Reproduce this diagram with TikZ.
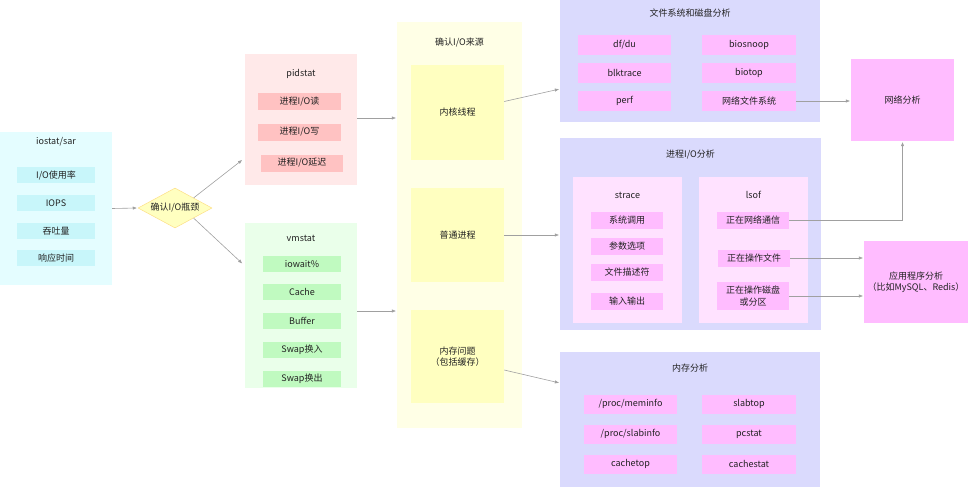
\documentclass[tikz,border=0pt]{standalone}
\usepackage{fontspec}
\setmainfont{Noto Sans CJK SC}
\usetikzlibrary{shapes.geometric,arrows.meta}
\definecolor{cyanout}{HTML}{E4FDFF}
\definecolor{cyanin}{HTML}{C8F6FA}
\definecolor{redout}{HTML}{FFE9E9}
\definecolor{redin}{HTML}{FFC2C2}
\definecolor{greenout}{HTML}{EAFFEA}
\definecolor{greenin}{HTML}{C0FAC0}
\definecolor{yelout}{HTML}{FFFFE6}
\definecolor{yelin}{HTML}{FFFFC0}
\definecolor{blueout}{HTML}{DADAFD}
\definecolor{pinkin}{HTML}{FFBCFF}
\definecolor{pinksub}{HTML}{FFE2FF}
\definecolor{arrgray}{HTML}{A0A0A0}
\definecolor{txt}{HTML}{222222}

\begin{document}
\begin{tikzpicture}[x=1pt, y=-1pt,
		every node/.style={inner sep=0, text=txt, font=\fontsize{9}{11.5}\selectfont, align=center},
		sz/.style 2 args={minimum width=#1, minimum height=#2},
		arr/.style={draw=arrgray, line width=0.6pt, -{Triangle[length=4pt, width=3pt]}, shorten >=1pt}]
		\useasboundingbox (0, 0) rectangle (976, 492);

		\node[fill=cyanout, sz={112}{153}] (iostat) at (56, 208.5) {};
		\node (iostat-t) at (56, 142) {iostat/sar};
		\node[fill=cyanin, sz={78}{16}] (iorate) at (56, 175) {I/O使用率};
		\node[fill=cyanin, sz={78}{16}] (iops) at (56, 203) {IOPS};
		\node[fill=cyanin, sz={78}{16}] (tput) at (56, 231) {吞吐量};
		\node[fill=cyanin, sz={78}{16}] (rtime) at (56, 258) {响应时间};

		\node[diamond, aspect=1.85, fill=yelin, draw=yellow!50!orange!45, line width=0.5pt, sz={74}{40}] (dia) at (175, 208) {确认I/O瓶颈};

		\node[fill=redout, sz={112}{131}] (pidstat) at (301, 119.5) {};
		\node (pidstat-t) at (301, 74) {pidstat};
		\node[fill=redin, sz={83}{17}] (pread) at (299.5, 102) {进程I/O读};
		\node[fill=redin, sz={83}{17}] (pwrite) at (299.5, 132) {进程I/O写};
		\node[fill=redin, sz={82}{17}] (pdelay) at (302, 163) {进程I/O延迟};

		\node[fill=greenout, sz={112}{165}] (vmstat) at (301, 305.5) {};
		\node (vmstat-t) at (301, 238) {vmstat};
		\node[fill=greenin, sz={78}{16}] (iowait) at (302, 264) {iowait\%};
		\node[fill=greenin, sz={78}{16}] (cache) at (302, 292) {Cache};
		\node[fill=greenin, sz={78}{16}] (buffer) at (302, 321) {Buffer};
		\node[fill=greenin, sz={78}{16}] (swapin) at (302, 350) {Swap换入};
		\node[fill=greenin, sz={78}{16}] (swapout) at (302, 379) {Swap换出};

		\node[fill=yelout, sz={125}{406}] (src) at (459.5, 225) {};
		\node (src-t) at (459.5, 43) {确认I/O来源};
		\node[fill=yelin, sz={93}{95}] (kern) at (457.5, 112.5) {内核线程};
		\node[fill=yelin, sz={93}{94}] (user) at (457.5, 235) {普通进程};
		\node[fill=yelin, sz={93}{93}] (memq) at (457.5, 356.5) {内存问题\\（包括缓存）};

		\node[fill=blueout, sz={260}{122}] (fs) at (690, 61) {};
		\node (fs-t) at (690, 13) {文件系统和磁盘分析};
		\node[fill=pinkin, sz={93}{20}] (dfdu) at (624.5, 45) {df/du};
		\node[fill=pinkin, sz={93}{20}] (blk) at (624.5, 73) {blktrace};
		\node[fill=pinkin, sz={93}{20}] (perf) at (624.5, 101) {perf};
		\node[fill=pinkin, sz={94}{20}] (bsnoop) at (749, 45) {biosnoop};
		\node[fill=pinkin, sz={94}{20}] (btop) at (749, 73) {biotop};
		\node[fill=pinkin, sz={94}{20}] (nfs) at (749, 101) {网络文件系统};

		\node[fill=pinkin, sz={103}{82}] (net) at (902.5, 100) {网络分析};

		\node[fill=blueout, sz={261}{192}] (proc) at (690.5, 234) {};
		\node (proc-t) at (690.5, 155) {进程I/O分析};
		\node[fill=pinksub, sz={109}{146}] (strace) at (627.5, 250) {};
		\node (strace-t) at (627.5, 195) {strace};
		\node[fill=pinksub, sz={109}{146}] (lsof) at (753.5, 250) {};
		\node (lsof-t) at (753.5, 195) {lsof};
		\node[fill=pinkin, sz={72}{17}] (sys) at (627, 220) {系统调用};
		\node[fill=pinkin, sz={72}{17}] (args) at (627, 246) {参数选项};
		\node[fill=pinkin, sz={72}{17}] (fdesc) at (627, 272) {文件描述符};
		\node[fill=pinkin, sz={72}{17}] (inout) at (627, 301) {输入输出};
		\node[fill=pinkin, sz={72}{17}] (netcomm) at (753, 220) {正在网络通信};
		\node[fill=pinkin, sz={72}{17}] (opfile) at (754, 258) {正在操作文件};
		\node[fill=pinkin, sz={72}{28}] (opdisk) at (753, 296) {正在操作磁盘\\或分区};

		\node[fill=pinkin, sz={104}{82}] (app) at (916, 282) {应用程序分析\\（比如MySQL、Redis）};

		\node[fill=blueout, sz={260}{135}] (mem) at (690, 419.5) {};
		\node (mem-t) at (690, 368) {内存分析};
		\node[fill=pinkin, sz={93}{19}] (meminfo) at (630.5, 404) {/proc/meminfo};
		\node[fill=pinkin, sz={93}{19}] (slabinfo) at (630.5, 434) {/proc/slabinfo};
		\node[fill=pinkin, sz={93}{19}] (ctop) at (630.5, 464) {cachetop};
		\node[fill=pinkin, sz={94}{19}] (slabtop) at (749, 404) {slabtop};
		\node[fill=pinkin, sz={94}{19}] (pcstat) at (749, 434) {pcstat};
		\node[fill=pinkin, sz={94}{19}] (cstat) at (749, 464) {cachestat};

		\draw[arr] (iostat.east) -- (dia.west);
		\draw[arr] (dia.north east) -- ([xshift=-2pt, yshift=-40pt]pidstat.west);
		\draw[arr] (dia.south east) -- ([xshift=-2pt, yshift=41.5pt]vmstat.west);
		\draw[arr] ([yshift=1.5pt]pidstat.east) -- ([yshift=1.5pt]pidstat.east -| src.west);
		\draw[arr] ([yshift=-5.5pt]vmstat.east) -- ([yshift=-5.5pt]vmstat.east -| src.west);
		\draw[arr] ([yshift=11pt]kern.east) -- ([yshift=-28pt]fs.west);
		\draw[arr] (user.east) -- (user.east -| proc.west);
		\draw[arr] ([yshift=-13.5pt]memq.east) -- ([yshift=36.5pt]mem.west);
		\draw[arr] (nfs.east) -- (nfs.east -| net.west);
		\draw[arr] (netcomm.east) -| (net.south);
		\draw[arr] (opfile.east) -- (opfile.east -| app.west);
		\draw[arr] (opdisk.east) -- (opdisk.east -| app.west);
	\end{tikzpicture}
\end{document}
